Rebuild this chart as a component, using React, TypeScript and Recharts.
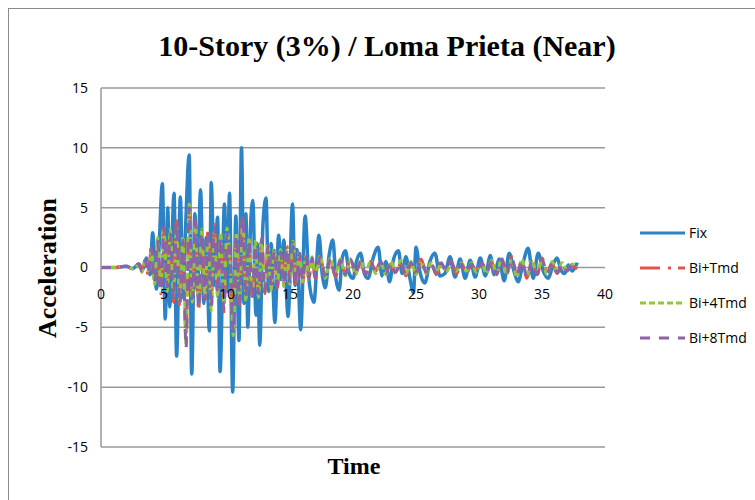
import React from 'react';
import { LineChart, Line, XAxis, YAxis, CartesianGrid } from 'recharts';

// Fix response (peaks and troughs)
const fixTime = [
  0, 1, 2, 2.5, 3, 3.3, 3.6, 3.9, 4.1, 4.4, 4.6, 4.87, 5.1, 5.3, 5.45, 5.8, 6.0, 6.3, 6.5, 6.7,
  7.0, 7.2, 7.45, 7.65, 7.9, 8.15, 8.35, 8.6, 8.75, 9.0, 9.25, 9.45, 9.8, 10.0, 10.2, 10.45, 10.7, 10.95, 11.15, 11.35,
  11.5, 11.65, 11.85, 12.05, 12.3, 12.4, 12.6, 12.85, 13.1, 13.3, 13.5, 13.8, 14.1, 14.3, 14.5, 14.85, 15.2, 15.4, 15.55, 15.85,
  16.2, 16.5, 16.9, 17.3, 17.55, 17.8, 18.1, 18.4, 18.65, 18.9, 19.15, 19.4, 19.7, 20.0, 20.3, 20.6, 20.9, 21.2, 21.6, 22.0,
  22.3, 22.6, 22.9, 23.2, 23.6, 23.9, 24.2, 24.5, 24.8, 25.0, 25.3, 25.7, 26.1, 26.5, 26.9, 27.3, 27.7, 28.1, 28.5, 28.9,
  29.3, 29.7, 30.1, 30.5, 30.9, 31.2, 31.6, 32.0, 32.4, 32.8, 33.1, 33.5, 33.9, 34.3, 34.7, 35.1, 35.5, 35.9, 36.2, 36.5,
  36.8, 37.1, 37.4, 37.8,
];
const fixAcc = [
  0, 0, 0.1, -0.1, 0.3, -0.2, 0.8, -0.6, 2.9, -1.8, 1.5, 7.0, -4.3, 5.0, -3.3, 6.2, -7.4, 5.9, -2.5, 3.0,
  9.4, -8.9, 4.5, -2.0, 6.5, -3.0, 2.5, -5.3, 7.1, -1.5, 4.2, -8.7, 5.3, -2.0, 6.2, -10.4, 4.3, -6.1, 10.0, -3.0,
  4.5, -5.0, 3.0, 5.6, -4.0, 2.0, -6.5, 3.5, 5.8, -2.0, 2.0, -4.6, 2.7, -1.0, 2.3, -4.1, 5.3, -1.5, 1.5, -5.2,
  4.3, -1.0, -2.9, 2.7, -0.5, -1.7, 1.0, 2.3, -1.0, -1.9, 0.8, 1.4, -0.5, -0.9, 0.6, 1.2, -0.5, -0.9, 0.8, 1.7,
  -0.7, 0.5, -1.2, 0.6, 1.4, -0.5, 0.9, -0.8, -2.1, 1.7, -0.3, -1.3, 0.5, 1.2, -0.7, -0.5, 0.9, -0.8, 0.7, -0.9,
  0.6, -0.8, 0.8, -0.7, 1.0, -0.6, 0.7, -1.1, 1.2, -0.4, -1.2, 0.4, 1.6, -0.9, 1.2, -0.3, -0.9, 0.3, 0.8, -0.2,
  -0.5, 0.2, -0.3, 0.4,
];

// shared time list for the three base-isolated cases
const biTime = [
  0, 1, 2, 2.5,
  3, 3.25, 3.5, 3.75, 4, 4.25, 4.5, 4.75, 5, 5.25, 5.5, 5.75, 6, 6.25, 6.5, 6.75, 7, 7.25, 7.5, 7.75,
  8, 8.25, 8.5, 8.75, 9, 9.25, 9.5, 9.75, 10, 10.25, 10.5, 10.75, 11, 11.25, 11.5, 11.75, 12, 12.25, 12.5, 12.75,
  13, 13.25, 13.5, 13.75, 14, 14.25, 14.5, 14.75, 15, 15.25, 15.5, 15.75, 16, 16.25, 16.5, 16.75,
  17, 17.4, 17.8, 18.2, 18.6, 19, 19.4, 19.8, 20.2, 20.6, 21, 21.4, 21.8, 22.2, 22.6, 23, 23.4, 23.8, 24.2, 24.6,
  25, 25.4, 25.8, 26.2, 26.6, 27, 27.4, 27.8, 28.2, 28.6, 29, 29.4, 29.8, 30.2, 30.6, 31, 31.4, 31.8, 32.2, 32.6,
  33, 33.4, 33.8, 34.2, 34.6, 35, 35.4, 35.8, 36.2, 36.6, 37, 37.4, 37.8,
];
const tmdAcc = [
  0, 0, 0.1, -0.1,
  0.3, -0.2, 0.5, -0.6, 1.7, -1.1, 2.0, -2.2, 3.6, -1.4, 2.6, -2.9, 3.9, -3.3, 2.1, -6.0, 4.8, -2.4, 4.0, -3.6,
  2.7, -2.9, 3.3, -3.1, 3.6, -2.0, 2.3, -3.7, 2.6, 0.8, -5.0, 2.4, -3.1, 4.5, -2.3, 2.0, -2.8, 1.7, -2.0, 2.6,
  -2.2, 1.6, -1.4, 1.3, -1.7, 1.1, -1.2, 1.8, -1.0, 1.8, -1.5, 1.0, -1.3, 1.1, -0.8, 0.7,
  -0.9, 0.8, -0.7, 0.6, -0.8, 0.5, -0.5, 0.8, -0.4, 0.4, -0.7, 0.4, -0.3, 0.6, -0.4, 0.3, -0.5, 0.4, -0.7, 0.3,
  -0.4, 0.7, -0.3, 0.4, -0.6, 0.5, -0.2, 0.5, -0.5, 0.2, -0.5, 0.2, -0.2, 0.5, -0.3, 0.4, -0.7, 0.6, -0.4, 0.9,
  -0.6, 0.5, -0.9, 0.4, -0.7, 0.8, -0.4, 0.3, -0.5, 0.2, -0.4, 0.1, -0.1,
];
const tmd4Acc = [
  0, 0, 0.1, -0.1,
  0.2, -0.4, 0.7, -0.3, 1.4, -1.4, 2.5, -1.7, 3.1, -2.0, 3.2, -2.4, 3.4, -2.8, 2.6, -6.4, 5.3, -2.9, 3.5, -3.0,
  3.2, -2.4, 2.8, -3.6, 3.0, -2.5, 2.9, -3.1, 3.3, 0.2, -5.7, 2.9, -2.5, 4.0, -2.8, 2.5, -2.3, 2.2, -2.5, 2.1,
  -1.8, 2.0, -1.9, 1.6, -1.3, 1.5, -1.6, 1.4, -1.4, 2.2, -1.1, 1.4, -1.2, 0.9, -1.0, 0.9,
  -0.7, 1.0, -0.9, 0.8, -0.6, 0.7, -0.7, 0.6, -0.6, 0.6, -0.5, 0.6, -0.5, 0.4, -0.6, 0.5, -0.3, 0.6, -0.5, 0.5,
  -0.6, 0.5, -0.5, 0.4, -0.4, 0.3, -0.4, 0.3, -0.3, 0.4, -0.3, 0.4, -0.4, 0.3, -0.5, 0.6, -0.5, 0.8, -0.6, 0.7,
  -0.8, 0.7, -0.7, 0.6, -0.5, 0.6, -0.6, 0.5, -0.3, 0.4, -0.2, 0.3, 0.1,
];
const tmd8Acc = [
  0, 0, 0.1, -0.1,
  0.3, -0.3, 0.6, -0.5, 1.6, -1.2, 2.2, -2.0, 3.4, -1.6, 2.8, -2.7, 3.7, -3.1, 2.3, -6.7, 5.0, -2.6, 3.8, -3.4,
  2.9, -2.7, 3.1, -3.3, 3.4, -2.2, 2.5, -3.5, 2.8, 0.5, -5.4, 2.6, -2.9, 4.3, -2.5, 2.2, -2.6, 1.9, -2.2, 2.4,
  -2.0, 1.8, -1.6, 1.4, -1.5, 1.3, -1.4, 1.6, -1.2, 2.0, -1.3, 1.2, -1.1, 1.0, -0.9, 0.8,
  -0.8, 0.9, -0.8, 0.7, -0.7, 0.6, -0.6, 0.7, -0.5, 0.5, -0.6, 0.5, -0.4, 0.5, -0.5, 0.4, -0.4, 0.5, -0.6, 0.4,
  -0.5, 0.6, -0.4, 0.3, -0.5, 0.4, -0.3, 0.4, -0.4, 0.3, -0.4, 0.3, -0.3, 0.4, -0.4, 0.5, -0.6, 0.7, -0.5, 0.8,
  -0.7, 0.6, -0.8, 0.5, -0.6, 0.7, -0.5, 0.4, -0.4, 0.3, -0.3, 0.2, 0.0,
];

const xTicks = [0, 5, 10, 15, 20, 25, 30, 35, 40];
const yTicks = [-15, -10, -5, 0, 5, 10, 15];

const series = [
  { name: 'Fix', color: '#2B83C6', dash: undefined, width: 3.5, data: fixTime.map((t, i) => ({ t, v: fixAcc[i] })) },
  { name: 'Bi+Tmd', color: '#E4544C', dash: '20 8 3 7', width: 3, data: biTime.map((t, i) => ({ t, v: tmdAcc[i] })) },
  { name: 'Bi+4Tmd', color: '#93C640', dash: '6 3', width: 3, data: biTime.map((t, i) => ({ t, v: tmd4Acc[i] })) },
  { name: 'Bi+8Tmd', color: '#8C62A8', dash: '10 9', width: 3, data: biTime.map((t, i) => ({ t, v: tmd8Acc[i] })) },
];

const labelFont = "'Open Sans', sans-serif";
const serif = "'Liberation Serif', 'Times New Roman', serif";

// x tick labels sit just under the zero line, not at the bottom of the plot
const renderXTick = (props: any) => {
  const { x, payload } = props;
  return (
    <text x={x} y={293} textAnchor="middle" dominantBaseline="central" fontSize={14} fontFamily={labelFont} fill="#000">
      {payload.value}
    </text>
  );
};

export default function App() {
  return (
    <div style={{ position: 'fixed', left: 0, top: 0, width: 755, height: 500, overflow: 'hidden', background: '#fff' }}>
      <div style={{ position: 'absolute', left: 8, top: 8, width: 900, height: 700, border: '1px solid #8a8a8a' }} />
      <div style={{ position: 'absolute', left: 0, top: 0 }}>
        <LineChart width={755} height={500} margin={{ top: 88, right: 150, bottom: 52, left: 0 }}>
          <CartesianGrid vertical={false} stroke="#999" strokeWidth={1.5} />
          <XAxis
            type="number"
            dataKey="t"
            domain={[0, 40]}
            ticks={xTicks}
            interval={0}
            height={1}
            axisLine={false}
            tickLine={false}
            tick={renderXTick}
            allowDataOverflow
          />
          <YAxis
            type="number"
            domain={[-15, 15]}
            ticks={yTicks}
            width={101}
            axisLine={{ stroke: '#999', strokeWidth: 1.5 }}
            tickLine={false}
            tickSize={0}
            tickMargin={13}
            tick={{ fill: '#000', fontSize: 14, fontFamily: labelFont }}
          />
          {series.map((s) => (
            <Line
              key={s.name}
              data={s.data}
              dataKey="v"
              name={s.name}
              type="monotone"
              stroke={s.color}
              strokeWidth={s.width}
              strokeDasharray={s.dash}
              dot={false}
              activeDot={false}
              isAnimationActive={false}
            />
          ))}
        </LineChart>
      </div>
      <div style={{ position: 'absolute', left: 0, top: 28, width: 774, textAlign: 'center', fontFamily: serif, fontWeight: 'bold', fontSize: 30, lineHeight: '36px', color: '#000' }}>
        10-Story (3%) / Loma Prieta (Near)
      </div>
      <div style={{ position: 'absolute', left: 254, top: 452, width: 200, textAlign: 'center', fontFamily: serif, fontWeight: 'bold', fontSize: 24, lineHeight: '28px', color: '#000' }}>
        Time
      </div>
      <div style={{ position: 'absolute', left: 48, top: 268, width: 0, height: 0 }}>
        <div style={{ position: 'absolute', left: -100, top: -15, width: 200, textAlign: 'center', transform: 'rotate(-90deg)', fontFamily: serif, fontWeight: 'bold', fontSize: 26, lineHeight: '30px', color: '#000' }}>
          Acceleration
        </div>
      </div>
      <div style={{ position: 'absolute', left: 640, top: 215 }}>
        {series.map((s) => (
          <div key={s.name} style={{ display: 'flex', alignItems: 'center', height: 35 }}>
            <svg width={45} height={6} style={{ display: 'block' }}>
              <line x1={0} y1={3} x2={45} y2={3} stroke={s.color} strokeWidth={3} strokeDasharray={s.dash} />
            </svg>
            <span style={{ marginLeft: 4, fontFamily: labelFont, fontSize: 14, color: '#000' }}>{s.name}</span>
          </div>
        ))}
      </div>
    </div>
  );
}
